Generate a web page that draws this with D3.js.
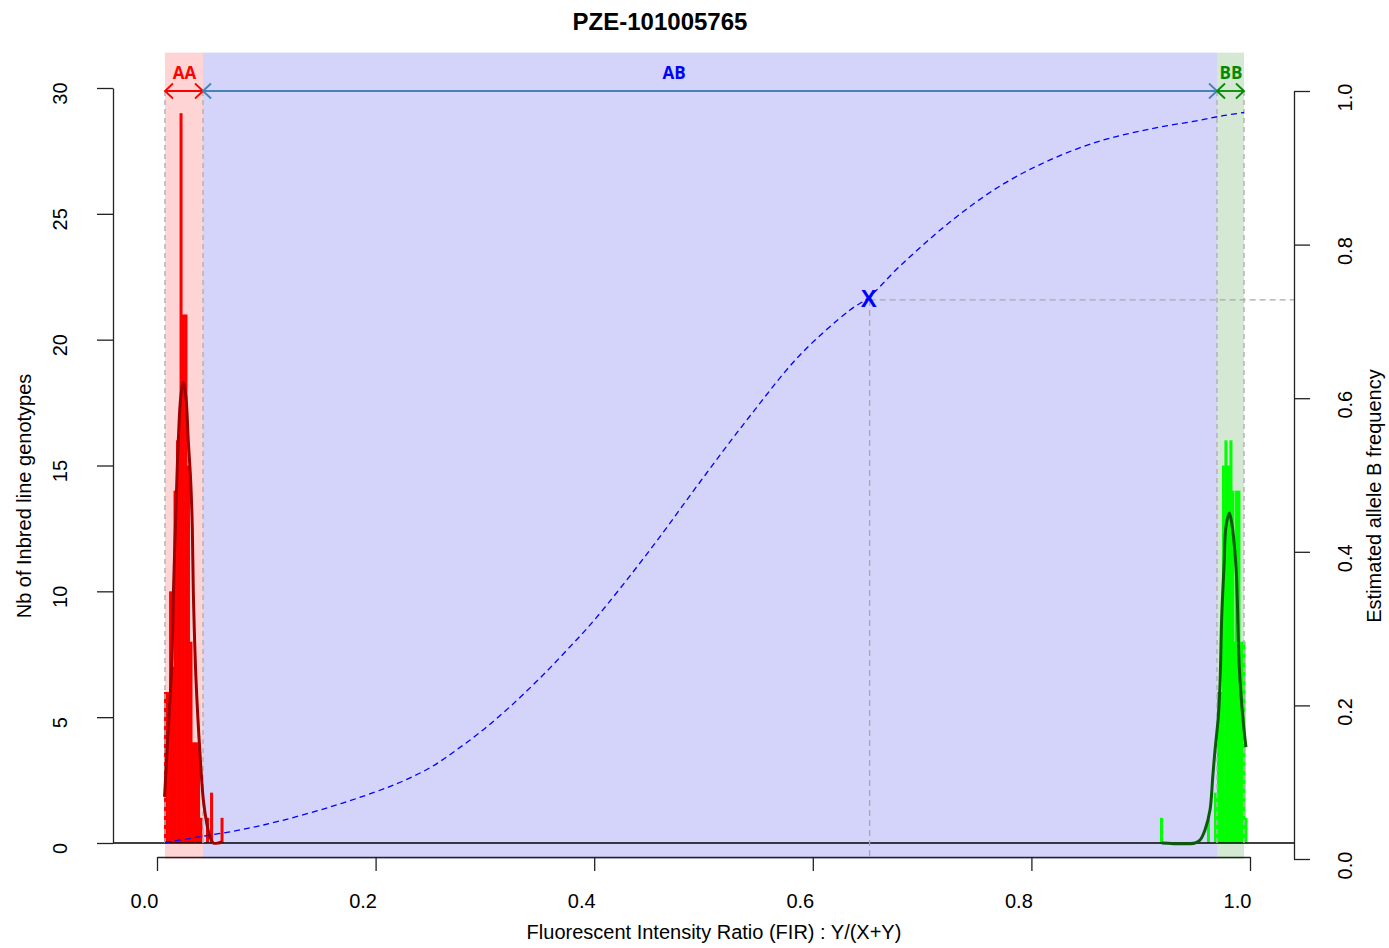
<!DOCTYPE html>
<html>
<head>
<meta charset="utf-8">
<script src="https://cdn.jsdelivr.net/npm/d3@7"></script>
<style>
  body { margin: 0; background: #fff; }
  text { font-family: "Liberation Sans", Arial, sans-serif; }
  .region-label { font-family: "Open Sans", "DejaVu Sans", sans-serif; font-weight: bold; }
</style>
</head>
<body>
<svg id="chart"></svg>
<script>
const chartTitle = "PZE-101005765",
      xTitle = "Fluorescent Intensity Ratio (FIR) : Y/(X+Y)",
      yTitle = "Nb of Inbred line genotypes",
      y2Title = "Estimated allele B frequency";

const xTicks = [0, 0.2, 0.4, 0.6, 0.8, 1.0],
      countTicks = [0, 5, 10, 15, 20, 25, 30],
      freqTicks = [0, 0.2, 0.4, 0.6, 0.8, 1.0];

// genotype classes and their FIR limits
const regionNames = ["AA", "AB", "BB"],
      regionBounds = [0.0073, 0.0421, 0.9698, 0.9945],
      regionLabelFir = [0.0252, 0.473, 0.9826];

// AA histogram (red)
const aaFir = [0.0078, 0.0101, 0.0124, 0.0142, 0.0165, 0.0188, 0.0206, 0.0220, 0.0242, 0.0265,
               0.0288, 0.0311, 0.0334, 0.0357, 0.0380, 0.0403, 0.0462, 0.0499, 0.0595],
      aaCount = [6, 6, 10, 7, 14, 16, 17, 29, 21, 21, 15, 8, 4, 4, 4, 1, 1, 2, 1];

// BB histogram (green)
const bbFir = [0.9190, 0.9620, 0.9684, 0.9712, 0.9735, 0.9757, 0.9780, 0.9803, 0.9826, 0.9844,
               0.9860, 0.9877, 0.9899, 0.9922, 0.9945, 0.9963],
      bbCount = [1, 1, 2, 6, 6, 15, 16, 15, 16, 14, 8, 14, 14, 8, 8, 1];

// density curves, scaled to counts
const aaDensFir = [0.0069, 0.0094, 0.0134, 0.0151, 0.0174, 0.0195, 0.0217, 0.0241, 0.0265, 0.0286,
                   0.0308, 0.0323, 0.0332, 0.0357, 0.0393, 0.0424, 0.0455, 0.0485, 0.0515, 0.0561, 0.0595],
      aaDensCount = [1.83, 3.81, 6.99, 10.05, 13.35, 16.0, 17.7, 18.3, 17.7, 16.0,
                     14.4, 12.55, 10.05, 6.48, 3.58, 1.71, 0.79, 0.24, 0, 0, 0.04];

const bbDensFir = [0.9192, 0.9497, 0.9543, 0.9588, 0.9634, 0.9659, 0.9680, 0.9710, 0.9726, 0.9741,
                   0.9762, 0.9780, 0.9811, 0.9833, 0.9872, 0.9884, 0.9902, 0.9934, 0.9963],
      bbDensCount = [0, 0, 0.12, 0.52, 1.31, 2.62, 3.69, 5.01, 6.36, 8.98,
                     10.97, 12.56, 13.11, 12.71, 10.97, 9.65, 6.99, 5.01, 3.81];

// estimated allele B frequency along FIR
const curveFir = [0.0073, 0.0119, 0.0393, 0.0759, 0.1125, 0.1583, 0.1995, 0.2250, 0.2500, 0.2750,
                  0.3000, 0.3250, 0.3500, 0.3750, 0.4000, 0.4510, 0.4968, 0.5425, 0.5883, 0.6340,
                  0.6505, 0.6798, 0.7255, 0.7713, 0.8170, 0.8628, 0.9085, 0.9497, 0.9753, 0.9945],
      curveFreq = [0.0215, 0.0225, 0.0290, 0.0378, 0.0495, 0.0677, 0.0872, 0.1015, 0.1190, 0.1430,
                   0.1700, 0.2010, 0.2350, 0.2720, 0.3110, 0.4023, 0.4909, 0.5768, 0.6563, 0.7148,
                   0.7305, 0.7721, 0.8294, 0.8763, 0.9102, 0.9349, 0.9505, 0.9609, 0.9678, 0.9720];

const markerFir = 0.652, markerFreq = 0.728;

const regionFill = ["#ffd4d4", "#d4d4fb", "#d4e8d4"],
      arrowColor = ["#ff0000", "#4682b4", "#008b00"],
      labelColor = ["#ff0000", "#0000ff", "#008b00"];

const W = 1389, H = 948;

const x = d3.scaleLinear().domain([0, 1]).range([157, 1250]);
const yCount = d3.scaleLinear().domain([0, 30]).range([843, 88]);
const yFreq = d3.scaleLinear().domain([0, 1]).range([859, 91]);

const svg = d3.select("#chart").attr("width", W).attr("height", H);

// Background regions
svg.selectAll(".region")
   .data(regionNames)
   .enter().append("rect")
   .attr("class", "region")
   .attr("x", (d, i) => x(regionBounds[i]))
   .attr("width", (d, i) => x(regionBounds[i + 1]) - x(regionBounds[i]))
   .attr("y", yFreq(1.05))
   .attr("height", yFreq(0) - yFreq(1.05))
   .style("fill", (d, i) => regionFill[i]);

// Histograms
const barW = 3;
function drawBars(firs, counts, color) {
  svg.append("g").selectAll("rect")
     .data(firs)
     .enter().append("rect")
     .attr("x", d => x(d) - barW / 2)
     .attr("width", barW)
     .attr("y", (d, i) => yCount(counts[i]))
     .attr("height", (d, i) => yCount(0) - yCount(counts[i]))
     .style("fill", color);
}
drawBars(aaFir, aaCount, "#ff0000");
drawBars(bbFir, bbCount, "#00ff00");

// zero line
svg.append("line")
   .attr("x1", 113).attr("x2", 1294)
   .attr("y1", yCount(0)).attr("y2", yCount(0))
   .style("stroke", "#000").style("stroke-width", 1.5);

// region limit lines
svg.selectAll(".limit")
   .data(regionBounds)
   .enter().append("line")
   .attr("class", "limit")
   .attr("x1", d => x(d)).attr("x2", d => x(d))
   .attr("y1", yFreq(1)).attr("y2", yCount(0))
   .style("stroke", "#b4b4b4")
   .style("stroke-width", 1.5)
   .style("stroke-dasharray", "5,4");

// Density curves
const densLine = d3.line().curve(d3.curveCatmullRom);
svg.append("path")
   .attr("d", densLine(aaDensFir.map((f, i) => [x(f), yCount(aaDensCount[i])])))
   .style("fill", "none").style("stroke", "#a00000").style("stroke-width", 3);
svg.append("path")
   .attr("d", densLine(bbDensFir.map((f, i) => [x(f), yCount(bbDensCount[i])])))
   .style("fill", "none").style("stroke", "#0b5a0b").style("stroke-width", 3);

// Allele B frequency curve
svg.append("path")
   .attr("d", densLine(curveFir.map((f, i) => [x(f), yFreq(curveFreq[i])])))
   .style("fill", "none")
   .style("stroke", "#0000ff")
   .style("stroke-width", 1.3)
   .style("stroke-dasharray", "6,4");

// Marker guide lines
svg.append("line")
   .attr("x1", x(markerFir)).attr("x2", 1294)
   .attr("y1", yFreq(markerFreq)).attr("y2", yFreq(markerFreq))
   .style("stroke", "#a8a8a8").style("stroke-width", 1.3).style("stroke-dasharray", "6,4");
svg.append("line")
   .attr("x1", x(markerFir)).attr("x2", x(markerFir))
   .attr("y1", yFreq(markerFreq)).attr("y2", 857)
   .style("stroke", "#a8a8a8").style("stroke-width", 1.3).style("stroke-dasharray", "6,4");

svg.append("text")
   .attr("x", x(markerFir) - 1)
   .attr("y", yFreq(markerFreq) + 7)
   .style("text-anchor", "middle")
   .style("font-weight", "bold")
   .style("font-size", "24px")
   .style("fill", "#0000ff")
   .text("X");

// Arrows with labels
const arrowY = yFreq(1), headL = 8, headH = 7.5;
regionNames.forEach((name, i) => {
  const x0 = x(regionBounds[i]), x1 = x(regionBounds[i + 1]);
  const g = svg.append("g")
               .style("fill", "none")
               .style("stroke", arrowColor[i])
               .style("stroke-width", 1.8);
  g.append("line").attr("x1", x0).attr("x2", x1).attr("y1", arrowY).attr("y2", arrowY);
  g.append("path").attr("d", `M${x0 + headL},${arrowY - headH}L${x0},${arrowY}L${x0 + headL},${arrowY + headH}`);
  g.append("path").attr("d", `M${x1 - headL},${arrowY - headH}L${x1},${arrowY}L${x1 - headL},${arrowY + headH}`);
  svg.append("text")
     .attr("class", "region-label")
     .attr("x", x(regionLabelFir[i]))
     .attr("y", arrowY - 12)
     .style("text-anchor", "middle")
     .style("font-size", "17px")
     .style("fill", labelColor[i])
     .text(name);
});

// Axes
const xAxis = svg.append("g")
   .attr("transform", "translate(0,857)")
   .call(d3.axisBottom(x).tickValues(xTicks).tickSize(14).tickSizeOuter(0).tickFormat(d3.format(".1f")));
xAxis.selectAll("text")
   .attr("x", -13).attr("y", 51).attr("dy", 0)
   .style("font-size", "20px");

const yAxis = svg.append("g")
   .attr("transform", "translate(113,0)")
   .call(d3.axisLeft(yCount).tickValues(countTicks).tickSize(16).tickSizeOuter(0));
yAxis.selectAll("text")
   .attr("x", null).attr("dy", 0)
   .attr("transform", "translate(-46,5) rotate(-90)")
   .style("text-anchor", "middle")
   .style("font-size", "20px");

const y2Axis = svg.append("g")
   .attr("transform", "translate(1294,0)")
   .call(d3.axisRight(yFreq).tickValues(freqTicks).tickSize(16).tickSizeOuter(0).tickFormat(d3.format(".1f")));
y2Axis.selectAll("text")
   .attr("x", null).attr("dy", 0)
   .attr("transform", "translate(58,6) rotate(-90)")
   .style("text-anchor", "middle")
   .style("font-size", "20px");

[xAxis, yAxis, y2Axis].forEach(a => {
  a.selectAll("path, line").style("stroke", "#222").style("stroke-width", 1.3);
  a.selectAll("text").style("font-family", "'Liberation Sans', Arial, sans-serif").style("fill", "#000");
});

// Titles
svg.append("text")
   .attr("x", 660).attr("y", 30)
   .style("text-anchor", "middle")
   .style("font-weight", "bold")
   .style("font-size", "24px")
   .text(chartTitle);

svg.append("text")
   .attr("x", 714).attr("y", 939)
   .style("text-anchor", "middle")
   .style("font-size", "20px")
   .text(xTitle);

svg.append("text")
   .attr("transform", "translate(31,496) rotate(-90)")
   .style("text-anchor", "middle")
   .style("font-size", "20px")
   .text(yTitle);

svg.append("text")
   .attr("transform", "translate(1381,496) rotate(-90)")
   .style("text-anchor", "middle")
   .style("font-size", "20px")
   .text(y2Title);
</script>
</body>
</html>
